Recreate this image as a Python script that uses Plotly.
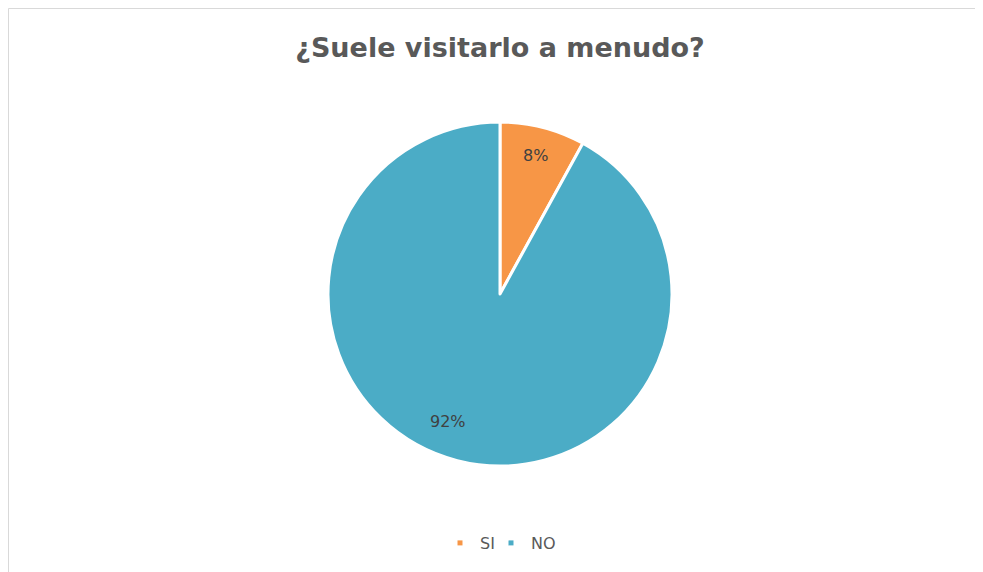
import math
import plotly.graph_objects as go

categories = ["SI", "NO"]
values = [8, 92]
colors = ["#F79646", "#4BACC6"]
label_text = ["8%", "92%"]

# The page has an 8px body margin: figure coords = page coords - 8
W, H = 983, 572
cx, cy, r = 492, 286, 172          # pie centre / radius in figure pixels
label_r = [0.83, 0.80]             # radial position of data labels (fraction of radius)
label_shift = [0, 8]               # angular nudge (deg) like Excel "best fit"
legend_left = [432, 483]           # left edge of each legend entry (figure px)

FONT = "DejaVu Sans, Liberation Sans, Arial, sans-serif"

fig = go.Figure()
fig.add_trace(go.Pie(
    labels=categories,
    values=values,
    sort=False,
    direction="clockwise",
    rotation=0,
    marker=dict(colors=colors, line=dict(color="white", width=3)),
    textinfo="none",
    showlegend=False,
    domain=dict(x=[(cx - r) / W, (cx + r) / W], y=[(H - cy - r) / H, (H - cy + r) / H]),
    hoverinfo="label+percent",
))

# legend entries with small square markers (as in the original)
legend_ids = ["legend", "legend2"]
for cat, col, lid in zip(categories, colors, legend_ids):
    fig.add_trace(go.Scatter(
        x=[None], y=[None], mode="markers", name=cat,
        marker=dict(symbol="square", size=5, color=col),
        showlegend=True, hoverinfo="skip", legend=lid,
    ))

# data labels placed from the slice angles
total = sum(values)
cum = 0
annotations = []
for i, (v, t) in enumerate(zip(values, label_text)):
    mid = 360 * (cum + v / 2) / total + label_shift[i]
    cum += v
    a = math.radians(mid)
    px = cx + label_r[i] * r * math.sin(a)
    py = cy - label_r[i] * r * math.cos(a)
    annotations.append(dict(
        x=px / W, y=1 - py / H, xref="paper", yref="paper",
        text=t, showarrow=False, xanchor="center", yanchor="middle",
        font=dict(family=FONT, size=16, color="#404040"),
    ))

legend_style = dict(
    orientation="h",
    yanchor="middle",
    y=1 - 535 / H,
    xanchor="left",
    font=dict(family=FONT, size=16, color="#595959"),
    itemwidth=30,
    bgcolor="rgba(0,0,0,0)",
)

fig.update_layout(
    width=W, height=H,
    margin=dict(l=0, r=0, t=0, b=0),
    paper_bgcolor="white",
    plot_bgcolor="white",
    xaxis=dict(visible=False),
    yaxis=dict(visible=False),
    title=dict(
        text="<b>¿Suele visitarlo a menudo?</b>",
        x=492 / W, xanchor="center",
        y=1 - 40 / H, yanchor="middle",
        font=dict(family=FONT, size=27, color="#595959"),
    ),
    legend=dict(legend_style, x=legend_left[0] / W),
    legend2=dict(legend_style, x=legend_left[1] / W),
    annotations=annotations,
    shapes=[dict(
        type="rect", xref="paper", yref="paper",
        x0=0.5 / W, x1=973 / W, y0=-0.05, y1=1 - 0.5 / H,
        line=dict(color="#D9D9D9", width=1),
        fillcolor="rgba(0,0,0,0)",
        layer="below",
    )],
)

fig.write_html("out.html")
